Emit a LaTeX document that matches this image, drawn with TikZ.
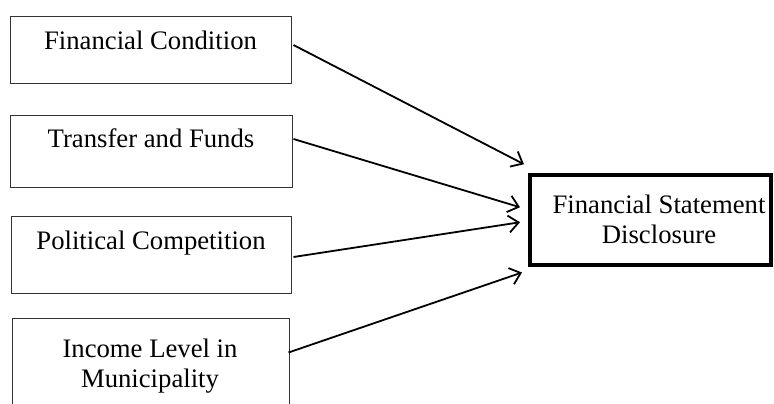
\documentclass[tikz,border=0pt]{standalone}
\usepackage{fontspec}
\setmainfont{Liberation Serif}
\usetikzlibrary{arrows.meta,calc}
\begin{document}
\begin{tikzpicture}[x=1pt,y=-1pt,
  srcbox/.style={draw=black!80,line width=1pt,rectangle,inner sep=0pt},
  dstbox/.style={draw=black,line width=4pt,rectangle,inner sep=0pt},
  lbl/.style={inner sep=0pt,anchor=base,font=\fontsize{26.7}{30}\selectfont},
  conn/.style={line width=1.8pt,-{Straight Barb[length=10pt,width=17pt,line width=1.8pt]}}]
\useasboundingbox (0,0) rectangle (774,404);
\clip (0,0) rectangle (774,404);
\node[srcbox,minimum width=281pt,minimum height=67pt] (fc) at (150.5,50.5) {};
\node[srcbox,minimum width=282pt,minimum height=72pt] (tf) at (151,151) {};
\node[srcbox,minimum width=280pt,minimum height=77pt] (pc) at (151,254.5) {};
\node[srcbox,minimum width=277pt,minimum height=102pt] (il) at (150.5,369) {};
\node[dstbox,minimum width=241pt,minimum height=90.5pt] (fsd) at (650.5,219.75) {};
\node[lbl] (fct) at (150.5,50) {Financial Condition};
\node[lbl] (tft) at (151,147) {Transfer and Funds};
\node[lbl] (pct) at (151,249) {Political Competition};
\node[lbl] (ilt1) at (150,357) {Income Level in};
\node[lbl] (ilt2) at (150,387) {Municipality};
\node[lbl] (fsdt1) at (659,213) {Financial Statement};
\node[lbl] (fsdt2) at (659,243) {Disclosure};
\draw[conn] ($(fc.east)+(2,-5.5)$) -- ($(fsd.west)+(-4,-55.5)$);
\draw[conn] ($(tf.east)+(1,-12)$) -- ($(fsd.west)+(-8,-12.5)$);
\draw[conn] ($(pc.east)+(2,2.5)$) -- ($(fsd.west)+(-8,2.5)$);
\draw[conn] ($(il.north east)+(-1,35)$) -- ($(fsd.south west)+(-6,5.5)$);
\end{tikzpicture}
\end{document}
